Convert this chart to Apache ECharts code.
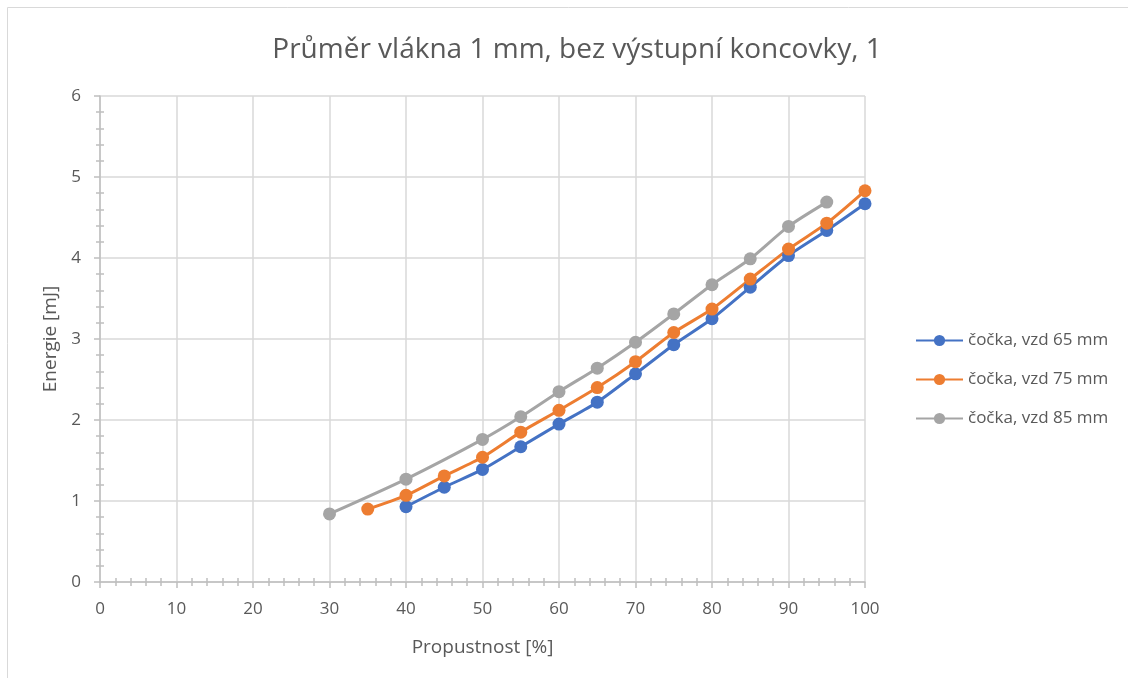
<!DOCTYPE html>
<html>
<head>
<meta charset="utf-8">
<script src="https://cdn.jsdelivr.net/npm/echarts@6/dist/echarts.min.js"></script>
<style>
  html, body { margin: 0; padding: 0; background: #fff; }
  #chart { width: 1128px; height: 678px; }
</style>
</head>
<body>
<div id="chart"></div>
<script>
// data
const x65 = [40, 45, 50, 55, 60, 65, 70, 75, 80, 85, 90, 95, 100];
const y65 = [0.93, 1.17, 1.39, 1.67, 1.95, 2.22, 2.57, 2.93, 3.25, 3.64, 4.03, 4.34, 4.67];

const x75 = [35, 40, 45, 50, 55, 60, 65, 70, 75, 80, 85, 90, 95, 100];
const y75 = [0.90, 1.07, 1.31, 1.54, 1.85, 2.12, 2.40, 2.72, 3.08, 3.37, 3.74, 4.11, 4.43, 4.83];

const x85 = [30, 40, 50, 55, 60, 65, 70, 75, 80, 85, 90, 95];
const y85 = [0.84, 1.27, 1.76, 2.04, 2.35, 2.64, 2.96, 3.31, 3.67, 3.99, 4.39, 4.69];

const names = ['čočka, vzd 65 mm', 'čočka, vzd 75 mm', 'čočka, vzd 85 mm'];
const colors = ['#4472c4', '#ed7d31', '#a5a5a5'];

const font = 'Open Sans';
const txt = '#595959';

const pairs = (xs, ys) => xs.map((x, i) => [x, ys[i]]);

const mkSeries = (i, xs, ys) => ({
    name: names[i],
    type: 'line',
    data: pairs(xs, ys),
    smooth: 0.25,
    symbol: 'circle',
    symbolSize: 13,
    lineStyle: { width: 3, color: colors[i] },
    itemStyle: { color: colors[i] },
    emphasis: { disabled: true }
});

const myChart = echarts.init(document.getElementById('chart'));

const option = {
    animation: false,
    title: {
        text: 'Průměr vlákna 1 mm, bez výstupní koncovky, 1',
        left: 572,
        textAlign: 'center',
        top: 31,
        textStyle: { fontFamily: font, fontSize: 28, fontWeight: 'normal', color: txt }
    },
    graphic: [
        {
            type: 'rect',
            shape: { x: 7.5, y: 7.5, width: 1130, height: 680 },
            style: { fill: 'none', stroke: '#d9d9d9', lineWidth: 1 },
            silent: true
        }
    ],
    legend: {
        orient: 'vertical',
        left: 910,
        top: 327,
        itemGap: 22,
        itemWidth: 47,
        itemHeight: 14,
        textStyle: { fontFamily: font, fontSize: 17, color: txt },
        data: names
    },
    grid: { left: 100, right: 263, top: 96, bottom: 96 },
    xAxis: [
        {
            type: 'value',
            min: 0, max: 100, interval: 10,
            name: 'Propustnost [%]',
            nameLocation: 'middle',
            nameGap: 56,
            nameTextStyle: { fontFamily: font, fontSize: 19, color: txt },
            axisLine: { lineStyle: { color: '#bfbfbf', width: 1.5 } },
            axisTick: { show: true, length: 6, lineStyle: { color: '#bfbfbf', width: 1.5 } },
            minorTick: { show: true, splitNumber: 5, length: 4, lineStyle: { color: '#bfbfbf', width: 1.5 } },
            axisLabel: { fontFamily: font, fontSize: 17, color: txt, margin: 19 },
            splitLine: { show: true, lineStyle: { color: '#d9d9d9', width: 1.5 } }
        },
        {
            type: 'value',
            position: 'bottom',
            min: 0, max: 100, interval: 10,
            axisLine: { show: false },
            axisTick: { show: false, inside: true },
            minorTick: { show: true, splitNumber: 5, length: 4, lineStyle: { color: '#bfbfbf', width: 1.5 } },
            axisLabel: { show: false },
            splitLine: { show: false }
        }
    ],
    yAxis: [
        {
            type: 'value',
            min: 0, max: 6, interval: 1,
            name: 'Energie [mJ]',
            nameLocation: 'middle',
            nameGap: 38,
            nameTextStyle: { fontFamily: font, fontSize: 19, color: txt },
            axisLine: { show: true, lineStyle: { color: '#bfbfbf', width: 1.5 } },
            axisTick: { show: true, length: 6, lineStyle: { color: '#bfbfbf', width: 1.5 } },
            minorTick: { show: true, splitNumber: 5, length: 4, lineStyle: { color: '#bfbfbf', width: 1.5 } },
            axisLabel: { fontFamily: font, fontSize: 17, color: txt, margin: 19 },
            splitLine: { show: true, lineStyle: { color: '#d9d9d9', width: 1.5 } }
        },
        {
            type: 'value',
            position: 'left',
            min: 0, max: 6, interval: 1,
            axisLine: { show: false },
            axisTick: { show: false, inside: true },
            minorTick: { show: true, splitNumber: 5, length: 4, lineStyle: { color: '#bfbfbf', width: 1.5 } },
            axisLabel: { show: false },
            splitLine: { show: false }
        }
    ],
    series: [
        mkSeries(0, x65, y65),
        mkSeries(1, x75, y75),
        mkSeries(2, x85, y85)
    ]
};

myChart.setOption(option);
</script>
</body>
</html>
